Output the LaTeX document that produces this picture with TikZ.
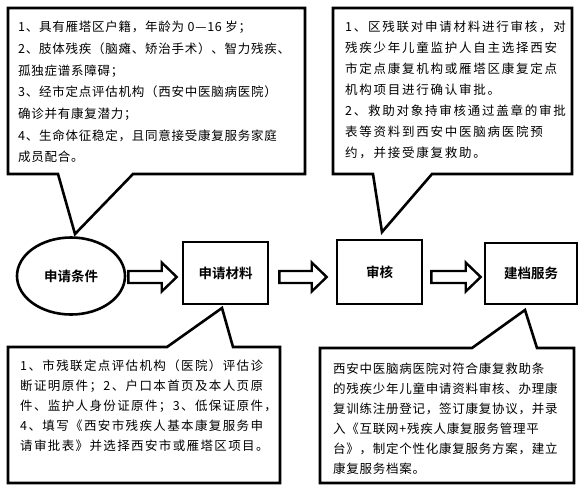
\documentclass[tikz,border=0pt]{standalone}
\usepackage{fontspec}
\usetikzlibrary{shapes.geometric,calc}
\newfontfamily\cjk{Noto Sans CJK SC}[LetterSpace=6]
\newfontfamily\cjkm{Noto Sans CJK SC}[LetterSpace=11]
\newfontfamily\cjkw{Noto Sans CJK SC}[LetterSpace=14]
\newfontfamily\cjkb{Noto Sans CJK SC Bold}
\begin{document}
\begin{tikzpicture}[x=1pt,y=-1pt,
  frame/.style={draw=black,line width=2.6pt,fill=white,line join=miter},
  body/.style={anchor=north west,inner sep=0pt,align=left},
  title/.style={font=\cjkb\fontsize{13.5}{16}\selectfont},
  stepbox/.style={draw=black,line width=2.6pt,fill=white,title},
  blockarrow/.style={draw=black,line width=2.4pt,fill=white,line join=miter}]
\useasboundingbox (0,0) rectangle (587,491);
\fill[white] (0,0) rectangle (587,491);
% callouts
\path[frame] (8,8) -- (305,8) -- (305,174) -- (133,174) -- (75,234) -- (58,174) -- (8,174) -- cycle;
\path[frame] (333,8) -- (572,8) -- (572,174) -- (432,174) -- (382,232) -- (373,174) -- (333,174) -- cycle;
\path[frame] (8,347) -- (167,347) -- (222,308) -- (233,347) -- (280,347) -- (280,483) -- (8,483) -- cycle;
\path[frame] (320,348) -- (472,348) -- (525,310) -- (537,348) -- (574,348) -- (574,483) -- (320,483) -- cycle;
% callout texts
\node[body,font=\cjk\fontsize{12.5}{21.7}\selectfont] (t1) at (18,21)
 {1、具有雁塔区户籍，年龄为 0—16 岁；\\2、肢体残疾（脑瘫、矫治手术）、智力残疾、\\孤独症谱系障碍；\\3、经市定点评估机构（西安中医脑病医院）\\确诊并有康复潜力；\\4、生命体征稳定，且同意接受康复服务家庭\\成员配合。};
\node[body,font=\cjkw\fontsize{12.5}{21}\selectfont] (t2) at (345,21)
 {1、区残联对申请材料进行审核，对\\残疾少年儿童监护人自主选择西安\\市定点康复机构或雁塔区康复定点\\机构项目进行确认审批。\\2、救助对象持审核通过盖章的审批\\表等资料到西安中医脑病医院预\\约，并接受康复救助。};
\node[body,font=\cjkm\fontsize{12.5}{20}\selectfont] (t3) at (20,360)
 {1、市残联定点评估机构（医院）评估诊\\断证明原件；2、户口本首页及本人页原\\件、监护人身份证原件；3、低保证原件，\\4、填写《西安市残疾人基本康复服务申\\请审批表》并选择西安市或雁塔区项目。};
\node[body,font=\cjk\fontsize{12.5}{20}\selectfont] (t4) at (333,363)
 {西安中医脑病医院对符合康复救助条\\的残疾少年儿童申请资料审核、办理康\\复训练注册登记，签订康复协议，并录\\入《互联网+残疾人康复服务管理平\\台》，制定个性化康复服务方案，建立\\康复服务档案。};
% flow nodes
\node[ellipse,draw=black,line width=2.6pt,fill=white,minimum width=108pt,minimum height=77pt,inner sep=0pt,title] (cond) at (71,276) {申请条件};
\node[stepbox,minimum width=85pt,minimum height=62pt] (mat) at (225.5,273) {申请材料};
\node[stepbox,minimum width=85pt,minimum height=64pt] (rev) at (379.5,272) {审核};
\node[stepbox,minimum width=92pt,minimum height=61pt] (srv) at (531,273.5) {建档服务};
% block arrows
\newcommand\myarrow[2]{%
 \path[blockarrow] let \p1=#1, \p2=#2 in
  (\x1,\y1+6) -- (\x2-15,\y1+6) -- (\x2-15,\y1+14.5) -- (\x2,\y1) --
  (\x2-15,\y1-14.5) -- (\x2-15,\y1-6) -- (\x1,\y1-6) -- cycle;}
\myarrow{($(cond.east)+(2,1)$)}{($(mat.west)+(-5,4)$)}
\myarrow{($(mat.east)+(10,4)$)}{($(rev.west)+(-9,5)$)}
\myarrow{($(rev.east)+(8,5)$)}{($(srv.west)+(-3,3.5)$)}
\end{tikzpicture}
\end{document}
